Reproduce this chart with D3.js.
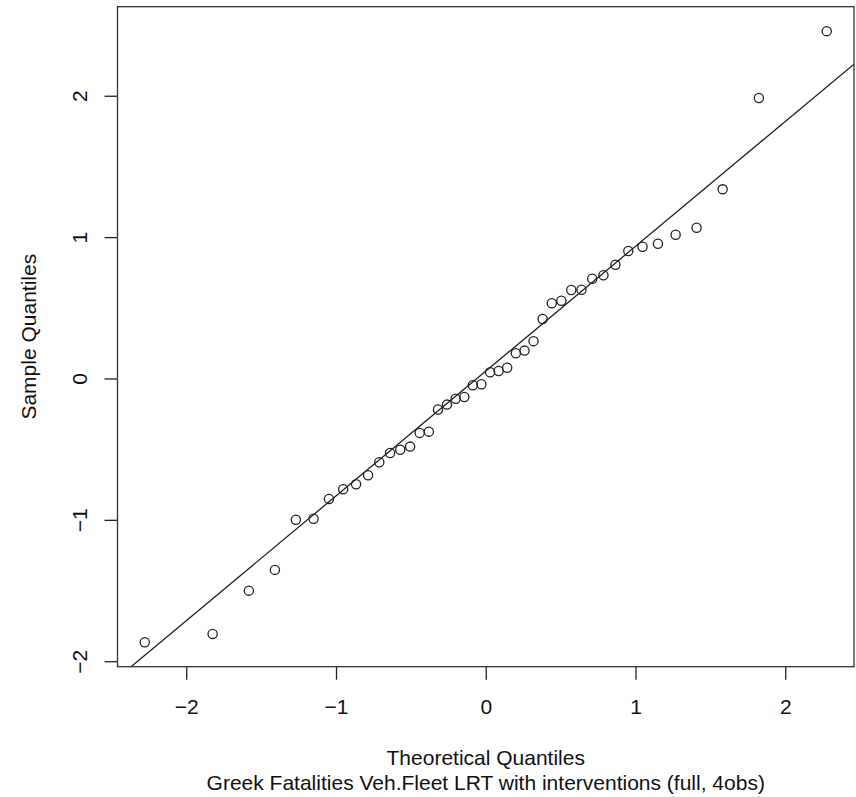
<!DOCTYPE html>
<html>
<head>
<meta charset="utf-8">
<script src="https://cdn.jsdelivr.net/npm/d3@7"></script>
<style>
  body { margin: 0; background: #fff; }
  svg text { font-family: "Liberation Sans", Arial, Helvetica, sans-serif; fill: #111; }
</style>
</head>
<body>
<div id="chart-holder"></div>
<script>
// theoretical normal quantiles for n = 44
var theoretical = [-2.277, -1.824, -1.582, -1.408, -1.268, -1.150, -1.047, -0.952, -0.866, -0.786,
  -0.711, -0.639, -0.571, -0.505, -0.441, -0.380, -0.319, -0.259, -0.201, -0.143, -0.086, -0.029,
  0.029, 0.086, 0.143, 0.201, 0.259, 0.319, 0.380, 0.441, 0.505, 0.571, 0.639, 0.711,
  0.786, 0.866, 0.952, 1.047, 1.150, 1.268, 1.408, 1.582, 1.824, 2.277];
// sorted standardized residuals (sample quantiles)
var sample = [-1.866, -1.807, -1.501, -1.354, -0.999, -0.992, -0.852, -0.784, -0.748, -0.685,
  -0.593, -0.527, -0.504, -0.482, -0.385, -0.376, -0.219, -0.185, -0.143, -0.131, -0.048, -0.041,
  0.044, 0.053, 0.076, 0.178, 0.197, 0.264, 0.421, 0.532, 0.550, 0.626, 0.628, 0.706,
  0.730, 0.805, 0.902, 0.932, 0.953, 1.017, 1.066, 1.338, 1.984, 2.457];
var xTicks = [-2, -1, 0, 1, 2];
var yTicks = [-2, -1, 0, 1, 2];
var xLabel = "Theoretical Quantiles";
var yLabel = "Sample Quantiles";
var subTitle = "Greek Fatalities Veh.Fleet LRT with interventions (full, 4obs)";

var W = 856, H = 797;
var margin = { top: 6.7, right: 2, bottom: 130.3, left: 117.5 };
var width = W - margin.left - margin.right,
  height = H - margin.top - margin.bottom;

// R style 4% range extension
function padExtent(v) {
  var e = d3.extent(v), d = (e[1] - e[0]) * 0.04;
  return [e[0] - d, e[1] + d];
}

var x = d3.scaleLinear().domain(padExtent(theoretical)).range([0, width]);
var y = d3.scaleLinear().domain(padExtent(sample)).range([height, 0]);

var svg = d3.select("#chart-holder").append("svg")
  .attr("width", W)
  .attr("height", H)
  .append("g")
  .attr("transform", "translate(" + margin.left + "," + margin.top + ")");

var fmt = d3.format("d");

// x axis
var gx = svg.append("g")
  .attr("transform", "translate(0," + height + ")")
  .call(d3.axisBottom(x).tickValues(xTicks).tickFormat(fmt).tickSize(13).tickSizeOuter(0));
gx.select(".domain").remove();
gx.selectAll("line").attr("stroke", "#222").attr("stroke-width", 1.3);
gx.selectAll("text")
  .attr("y", 47).attr("dy", 0)
  .attr("font-size", 21).attr("fill", "#111");

// y axis, labels turned like R's las = 0
var gy = svg.append("g")
  .call(d3.axisLeft(y).tickValues(yTicks).tickFormat(fmt).tickSize(13).tickSizeOuter(0));
gy.select(".domain").remove();
gy.selectAll("line").attr("stroke", "#222").attr("stroke-width", 1.3);
gy.selectAll("text")
  .attr("transform", "rotate(-90)")
  .attr("x", 0).attr("y", -30.5).attr("dy", 0)
  .attr("text-anchor", "middle")
  .attr("font-size", 21).attr("fill", "#111");

// plot box
svg.append("rect")
  .attr("x", 0).attr("y", 0)
  .attr("width", width).attr("height", height)
  .attr("fill", "none").attr("stroke", "#333").attr("stroke-width", 1.3);

// qqline through the quartiles
var q1 = d3.quantile(sample, 0.25), q3 = d3.quantile(sample, 0.75);
var z1 = -0.6744898, z3 = 0.6744898;
var slope = (q3 - q1) / (z3 - z1);
var intercept = q1 - slope * z1;
var xd = x.domain();
var lineData = [xd[0], xd[1]].map(function (t) { return [t, intercept + slope * t]; });

svg.append("clipPath").attr("id", "clip")
  .append("rect").attr("width", width).attr("height", height);

svg.append("path")
  .datum(lineData)
  .attr("clip-path", "url(#clip)")
  .attr("fill", "none")
  .attr("stroke", "#222")
  .attr("stroke-width", 1.3)
  .attr("d", d3.line()
    .x(function (d) { return x(d[0]); })
    .y(function (d) { return y(d[1]); }));

// points
svg.selectAll("circle.pt")
  .data(d3.zip(theoretical, sample))
  .enter()
  .append("circle")
  .attr("class", "pt")
  .attr("cx", function (d) { return x(d[0]); })
  .attr("cy", function (d) { return y(d[1]); })
  .attr("r", 4.6)
  .attr("fill", "none")
  .attr("stroke", "#222")
  .attr("stroke-width", 1.3);

// axis titles
svg.append("text")
  .attr("x", width / 2).attr("y", 765 - margin.top)
  .attr("text-anchor", "middle").attr("font-size", 21)
  .text(xLabel);
svg.append("text")
  .attr("x", width / 2).attr("y", 790 - margin.top)
  .attr("text-anchor", "middle").attr("font-size", 21)
  .text(subTitle);
svg.append("text")
  .attr("transform", "translate(" + (36 - margin.left) + "," + (height / 2) + ") rotate(-90)")
  .attr("text-anchor", "middle").attr("font-size", 21)
  .text(yLabel);
</script>
</body>
</html>
